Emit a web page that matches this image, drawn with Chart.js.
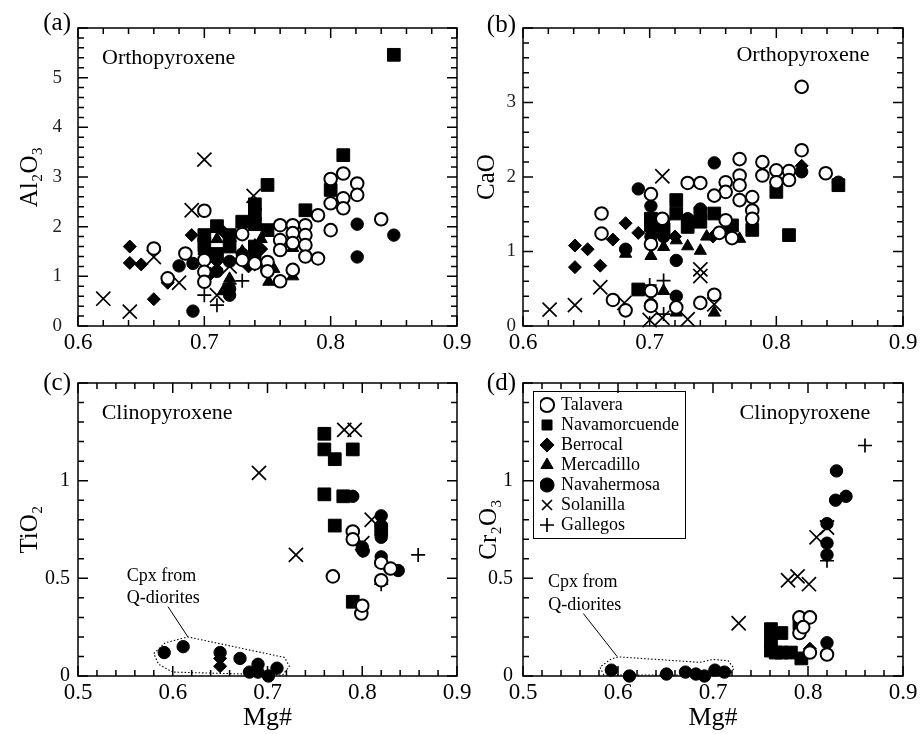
<!DOCTYPE html>
<html>
<head>
<meta charset="utf-8">
<script src="https://cdn.jsdelivr.net/npm/chart.js@4.4.0/dist/chart.umd.min.js"></script>
<style>
  body { margin: 0; background: #fff; }
  #wrap { position: relative; width: 921px; height: 734px; overflow: hidden; background: #fff; }
  canvas { position: absolute; }
</style>
</head>
<body>
<div id="wrap">
  <canvas id="chartA" width="480" height="360" style="left:0;top:0;width:480px;height:360px"></canvas>
  <canvas id="chartB" width="461" height="360" style="left:460px;top:0;width:461px;height:360px"></canvas>
  <canvas id="chartC" width="480" height="379" style="left:0;top:355px;width:480px;height:379px"></canvas>
  <canvas id="chartD" width="461" height="379" style="left:460px;top:355px;width:461px;height:379px"></canvas>
</div>
<script>
// sample localities, in legend order
const seriesNames = ['Talavera', 'Navamorcuende', 'Berrocal', 'Mercadillo', 'Navahermosa', 'Solanilla', 'Gallegos'];

// (a) orthopyroxene, Al2O3 vs Mg#
const alTalavera = [[0.660,1.56],[0.685,1.46],[0.671,0.96],[0.700,2.32],[0.700,1.33],[0.700,1.09],[0.700,0.89],[0.730,1.85],[0.730,1.33],[0.740,1.26],[0.750,1.29],[0.750,1.10],[0.760,2.03],[0.760,1.73],[0.760,1.53],[0.760,0.90],[0.770,2.03],[0.770,1.87],[0.770,1.67],[0.770,1.13],[0.780,2.03],[0.780,1.83],[0.780,1.63],[0.780,1.40],[0.790,1.36],[0.790,2.23],[0.800,2.96],[0.800,2.47],[0.800,1.93],[0.810,3.07],[0.810,2.57],[0.810,2.37],[0.821,2.87],[0.821,2.64],[0.840,2.15]];
const alNavamorcuende = [[0.850,5.46],[0.810,3.44],[0.750,2.84],[0.740,2.45],[0.740,2.25],[0.740,2.05],[0.730,2.10],[0.710,2.01],[0.720,1.83],[0.700,1.83],[0.700,1.65],[0.780,2.33],[0.800,2.74],[0.750,1.93],[0.740,1.60],[0.720,1.60],[0.710,1.45]];
const alBerrocal = [[0.641,1.60],[0.641,1.27],[0.650,1.24],[0.660,0.54],[0.671,0.87],[0.690,1.83],[0.700,1.45],[0.710,1.30],[0.720,1.70],[0.735,1.20],[0.745,1.55],[0.700,1.70],[0.715,1.90],[0.705,1.05]];
const alMercadillo = [[0.751,0.89],[0.770,1.00],[0.770,1.57],[0.710,1.75],[0.710,1.40],[0.720,0.95],[0.720,0.78],[0.740,1.62],[0.730,1.50],[0.755,1.15],[0.700,1.20],[0.715,0.70],[0.745,1.75]];
const alNavahermosa = [[0.691,0.30],[0.680,1.21],[0.691,1.26],[0.720,0.62],[0.720,0.75],[0.821,2.05],[0.821,1.39],[0.850,1.83],[0.700,1.50],[0.710,1.10],[0.730,1.45],[0.740,1.40],[0.720,1.30],[0.700,1.75]];
const alSolanilla = [[0.620,0.55],[0.641,0.29],[0.700,3.35],[0.690,2.33],[0.739,2.62],[0.660,1.39],[0.680,0.87],[0.720,1.20],[0.745,1.25],[0.710,0.62]];
const alGallegos = [[0.700,0.62],[0.710,0.42],[0.730,0.91],[0.745,1.22],[0.720,0.85]];

// (b) orthopyroxene, CaO vs Mg#
const caTalavera = [[0.820,3.21],[0.820,2.36],[0.789,2.20],[0.789,2.02],[0.800,2.09],[0.800,1.93],[0.810,2.08],[0.810,1.96],[0.839,2.05],[0.771,2.24],[0.771,2.02],[0.771,1.89],[0.771,1.69],[0.760,1.93],[0.760,1.80],[0.760,1.42],[0.781,1.73],[0.781,1.55],[0.781,1.44],[0.751,1.75],[0.730,1.92],[0.740,1.92],[0.701,1.77],[0.662,1.51],[0.662,1.24],[0.701,1.10],[0.671,0.35],[0.681,0.21],[0.701,0.47],[0.701,0.27],[0.740,0.31],[0.751,0.42],[0.721,0.25],[0.710,1.44],[0.765,1.18],[0.755,1.25]];
const caNavamorcuende = [[0.849,1.89],[0.810,1.22],[0.800,1.80],[0.781,1.29],[0.721,1.69],[0.721,1.51],[0.701,1.44],[0.701,1.35],[0.751,1.51],[0.740,1.51],[0.730,1.33],[0.691,0.49],[0.740,1.40],[0.765,1.35],[0.711,1.30]];
const caBerrocal = [[0.641,1.08],[0.641,0.79],[0.651,1.03],[0.671,1.16],[0.661,0.81],[0.681,1.38],[0.691,1.25],[0.820,2.15],[0.720,1.20],[0.750,1.20]];
const caMercadillo = [[0.681,0.97],[0.701,0.94],[0.711,1.06],[0.721,1.15],[0.730,1.07],[0.740,1.01],[0.771,1.17],[0.751,0.18],[0.721,0.18],[0.711,0.47],[0.760,1.25],[0.745,1.20]];
const caNavahermosa = [[0.751,2.19],[0.691,1.84],[0.701,1.61],[0.681,1.03],[0.711,1.42],[0.730,1.44],[0.740,1.57],[0.721,0.88],[0.721,0.40],[0.701,0.29],[0.849,1.93],[0.820,2.07],[0.701,1.20],[0.711,1.20]];
const caSolanilla = [[0.621,0.22],[0.641,0.28],[0.661,0.52],[0.710,2.01],[0.740,0.76],[0.740,0.67],[0.680,0.31],[0.710,0.11],[0.730,0.09],[0.751,0.29],[0.700,0.08]];
const caGallegos = [[0.711,0.61],[0.711,0.16],[0.700,0.55],[0.705,1.30]];

// (c) clinopyroxene, TiO2 vs Mg#
const tiTalavera = [[0.769,0.51],[0.790,0.74],[0.790,0.70],[0.799,0.32],[0.800,0.36],[0.820,0.58],[0.820,0.49],[0.830,0.55]];
const tiNavamorcuende = [[0.760,1.24],[0.760,1.16],[0.771,1.11],[0.760,0.93],[0.780,0.92],[0.771,0.77],[0.790,1.16],[0.790,0.38],[0.820,0.75]];
const tiBerrocal = [[0.650,0.09],[0.650,0.05],[0.800,0.64]];
const tiMercadillo = [];
const tiNavahermosa = [[0.591,0.12],[0.611,0.15],[0.650,0.12],[0.671,0.09],[0.681,0.02],[0.690,0.06],[0.701,0.00],[0.710,0.04],[0.690,0.02],[0.820,0.82],[0.820,0.71],[0.801,0.64],[0.820,0.61],[0.838,0.54],[0.829,0.55],[0.790,0.92],[0.820,0.77],[0.800,0.66]];
const tiSolanilla = [[0.691,1.04],[0.730,0.62],[0.781,1.26],[0.792,1.26],[0.810,0.80],[0.800,0.68]];
const tiGallegos = [[0.859,0.62],[0.820,0.47]];

// (d) clinopyroxene, Cr2O3 vs Mg#
const crTalavera = [[0.791,0.30],[0.802,0.30],[0.791,0.22],[0.820,0.11],[0.802,0.12],[0.795,0.25]];
const crNavamorcuende = [[0.761,0.24],[0.772,0.22],[0.761,0.13],[0.772,0.12],[0.782,0.12],[0.793,0.09],[0.791,0.27],[0.761,0.18],[0.766,0.12]];
const crBerrocal = [[0.802,0.14]];
const crMercadillo = [];
const crNavahermosa = [[0.830,1.05],[0.829,0.90],[0.840,0.92],[0.820,0.78],[0.820,0.68],[0.820,0.62],[0.820,0.17],[0.593,0.03],[0.612,0.00],[0.651,0.01],[0.671,0.02],[0.682,0.01],[0.691,0.00],[0.702,0.03],[0.712,0.02]];
const crSolanilla = [[0.809,0.71],[0.820,0.76],[0.779,0.49],[0.789,0.51],[0.801,0.47],[0.727,0.27]];
const crGallegos = [[0.860,1.18],[0.820,0.59]];

// outlines round the Q-diorite cpx and the leader lines to their labels
const tiOutline = [[0.600,0.020],[0.585,0.060],[0.580,0.115],[0.592,0.170],[0.616,0.200],[0.718,0.095],[0.723,0.050],[0.716,0.005],[0.600,0.020]];
const tiLeader = [[0.595,0.355],[0.616,0.200]];
const crOutline = [[0.585,0.005],[0.581,0.045],[0.592,0.085],[0.600,0.098],[0.686,0.070],[0.700,0.085],[0.716,0.078],[0.722,0.040],[0.718,0.005],[0.585,0.005]];
const crLeader = [[0.5635,0.32],[0.599,0.10]];

const FONT = "'Liberation Serif', 'DejaVu Serif', 'Times New Roman', serif";
Chart.defaults.font.family = FONT;
Chart.defaults.color = '#000';

const markers = [
  { style: 'circle',   radius: 6.3, fill: '#fff', width: 2 },
  { style: 'rect',     radius: 9,   fill: '#000', width: 1 },
  { style: 'rectRot',  radius: 6.5, fill: '#000', width: 1 },
  { style: 'triangle', radius: 7,   fill: '#000', width: 1 },
  { style: 'circle',   radius: 6.2, fill: '#000', width: 1 },
  { style: 'crossRot', radius: 10,  fill: '#000', width: 1.7 },
  { style: 'cross',    radius: 7,   fill: '#000', width: 1.7 }
];

function pts(arr) {
  return arr.map(p => ({ x: p[0], y: p[1] }));
}

function buildDatasets(series, outline, leader) {
  const ds = seriesNames.map((name, i) => ({
    label: name,
    data: pts(series[i]),
    pointStyle: markers[i].style,
    pointRadius: markers[i].radius,
    pointBackgroundColor: markers[i].fill,
    pointBorderColor: '#000',
    pointBorderWidth: markers[i].width,
    backgroundColor: markers[i].fill,
    borderColor: '#000',
    borderWidth: markers[i].width,
    showLine: false,
    clip: false
  }));
  if (outline) {
    ds.push({ label: '', data: pts(outline), showLine: true, borderColor: '#000', borderWidth: 1.1,
      borderDash: [1.5, 2], pointRadius: 0, fill: false, clip: false });
  }
  if (leader) {
    ds.push({ label: '', data: pts(leader), showLine: true, borderColor: '#000', borderWidth: 1,
      pointRadius: 0, fill: false, clip: false });
  }
  return ds;
}

// frame + inward ticks on all four sides
function frameTicks(xMinor, yMinor, xMajor, yMajor) {
  return {
    id: 'frameTicks',
    afterDraw(chart) {
      const ctx = chart.ctx;
      const a = chart.chartArea;
      const x = chart.scales.x;
      const y = chart.scales.y;
      ctx.save();
      ctx.strokeStyle = '#000';
      ctx.lineWidth = 1.5;
      ctx.setLineDash([]);
      const isMajor = (v, m) => Math.abs(v / m - Math.round(v / m)) < 1e-6;
      const nx = Math.round((x.max - x.min) / xMinor);
      ctx.beginPath();
      for (let i = 0; i <= nx; i++) {
        const v = x.min + i * xMinor;
        const px = x.getPixelForValue(v);
        const len = isMajor(v, xMajor) ? 10 : 6;
        ctx.moveTo(px, a.bottom); ctx.lineTo(px, a.bottom - len);
        ctx.moveTo(px, a.top); ctx.lineTo(px, a.top + len);
      }
      const ny = Math.round((y.max - y.min) / yMinor);
      for (let i = 0; i <= ny; i++) {
        const v = y.min + i * yMinor;
        const py = y.getPixelForValue(v);
        const len = isMajor(v, yMajor) ? 10 : 6;
        ctx.moveTo(a.left, py); ctx.lineTo(a.left + len, py);
        ctx.moveTo(a.right, py); ctx.lineTo(a.right - len, py);
      }
      ctx.stroke();
      ctx.lineWidth = 1.5;
      ctx.strokeRect(a.left, a.top, a.right - a.left, a.bottom - a.top);
      ctx.restore();
    }
  };
}

// panel letter and text notes placed in data coordinates
function notes(panel, panelDy, items) {
  return {
    id: 'notes',
    afterDraw(chart) {
      const { ctx, chartArea: a, scales: { x, y } } = chart;
      ctx.save();
      ctx.fillStyle = '#000';
      ctx.textBaseline = 'middle';
      ctx.font = '25px ' + FONT;
      ctx.textAlign = 'right';
      ctx.fillText(panel, a.left - 7, a.top + panelDy);
      items.forEach(it => {
        ctx.font = it.size + 'px ' + FONT;
        ctx.textAlign = it.align || 'left';
        ctx.fillText(it.text, x.getPixelForValue(it.x), y.getPixelForValue(it.y));
      });
      ctx.restore();
    }
  };
}

// legend sits inside the plot of (d), with a box round it
const legendPlace = {
  id: 'legendPlace',
  afterLayout(chart) {
    const lg = chart.legend;
    if (!lg || !lg.options.display) return;
    const a = chart.chartArea;
    lg.left = a.left + 17;
    lg.top = a.top + 11;
    lg.right = lg.left + lg.width + 20;
    lg.bottom = lg.top + 160;
  },
  afterDraw(chart) {
    const lg = chart.legend;
    if (!lg || !lg.options.display || !lg.columnSizes || !lg.columnSizes.length) return;
    const col = lg.columnSizes[0];
    const ctx = chart.ctx;
    ctx.save();
    ctx.strokeStyle = '#000';
    ctx.lineWidth = 1;
    ctx.strokeRect(Math.round(lg.left - 7) + 0.5, Math.round(lg.top - 3) + 0.5, Math.round(col.width + 15), Math.round(col.height + 7));
    ctx.restore();
  }
};

function makeChart(id, opt) {
  const xScale = {
    type: 'linear', position: 'bottom', min: opt.xMin, max: 0.9,
    grid: { display: false, drawTicks: false }, border: { display: false },
    ticks: { stepSize: 0.1, padding: 3, font: { size: 23 }, color: '#000', maxRotation: 0, autoSkip: false,
      callback: v => v.toFixed(1) },
    title: { display: opt.xTitle, text: 'Mg#', font: { size: 26 }, color: '#000', padding: { top: 0, bottom: 0 } },
    afterFit(s) { s.height = opt.xHeight; s.paddingLeft = 0; s.paddingRight = 0; }
  };
  const yScale = {
    type: 'linear', position: 'left', min: 0, max: opt.yMax,
    grid: { display: false, drawTicks: false }, border: { display: false },
    ticks: { stepSize: opt.yStep, padding: opt.yPad, font: { size: opt.yFont }, color: opt.yColor,
      callback: v => (Math.abs(v - opt.yMax) < 1e-9 ? '' : String(v)) },
    title: { display: true, text: opt.yTitle, font: { size: 25 }, color: '#000', padding: { top: opt.titlePad, bottom: 0 } },
    afterFit(s) { s.width = opt.yWidth; s.paddingTop = 0; s.paddingBottom = 0; }
  };
  return new Chart(document.getElementById(id), {
    type: 'scatter',
    data: { datasets: buildDatasets(opt.series, opt.outline, opt.leader) },
    options: {
      responsive: false,
      animation: false,
      events: [],
      layout: { padding: { left: 0, top: 28, right: opt.padRight, bottom: 0 } },
      scales: { x: xScale, y: yScale },
      plugins: {
        legend: {
          display: !!opt.legend,
          position: 'chartArea',
          align: 'start',
          labels: {
            usePointStyle: true, boxWidth: 10, boxHeight: 10, padding: 2, color: '#000',
            font: { size: 18 },
            filter: item => item.text !== ''
          }
        },
        tooltip: { enabled: false }
      }
    },
    plugins: [frameTicks(0.02, opt.yMinor, 0.1, opt.yStep), notes(opt.panel, opt.panelDy, opt.notes), legendPlace]
  });
}

makeChart('chartA', {
  series: [alTalavera, alNavamorcuende, alBerrocal, alMercadillo, alNavahermosa, alSolanilla, alGallegos],
  xMin: 0.6, yMax: 6, yStep: 1, yMinor: 0.2, yTitle: 'Al\u2082O\u2083',
  yWidth: 78, xHeight: 34, padRight: 23, yPad: 16, yFont: 19, yColor: '#222', titlePad: 15, xTitle: false,
  panel: '(a)', panelDy: -5,
  notes: [{ text: 'Orthopyroxene', x: 0.619, y: 5.39, size: 22 }]
});

makeChart('chartB', {
  series: [caTalavera, caNavamorcuende, caBerrocal, caMercadillo, caNavahermosa, caSolanilla, caGallegos],
  xMin: 0.6, yMax: 4, yStep: 1, yMinor: 0.2, yTitle: 'CaO',
  yWidth: 63, xHeight: 34, padRight: 18, yPad: 7, yFont: 19, yColor: '#222', titlePad: 12, xTitle: false,
  panel: '(b)', panelDy: -3,
  notes: [{ text: 'Orthopyroxene', x: 0.7685, y: 3.64, size: 22 }]
});

makeChart('chartC', {
  series: [tiTalavera, tiNavamorcuende, tiBerrocal, tiMercadillo, tiNavahermosa, tiSolanilla, tiGallegos],
  outline: tiOutline, leader: tiLeader,
  xMin: 0.5, yMax: 1.5, yStep: 0.5, yMinor: 0.1, yTitle: 'TiO\u2082',
  yWidth: 78, xHeight: 58, padRight: 23, yPad: 8, yFont: 20, yColor: '#000', titlePad: 15, xTitle: true,
  panel: '(c)', panelDy: 0,
  notes: [
    { text: 'Clinopyroxene', x: 0.525, y: 1.347, size: 22 },
    { text: 'Cpx from', x: 0.588, y: 0.51, size: 18, align: 'center' },
    { text: 'Q-diorites', x: 0.590, y: 0.40, size: 18, align: 'center' }
  ]
});

makeChart('chartD', {
  series: [crTalavera, crNavamorcuende, crBerrocal, crMercadillo, crNavahermosa, crSolanilla, crGallegos],
  outline: crOutline, leader: crLeader,
  xMin: 0.5, yMax: 1.5, yStep: 0.5, yMinor: 0.1, yTitle: 'Cr\u2082O\u2083',
  yWidth: 63, xHeight: 58, padRight: 18, yPad: 10, yFont: 20, yColor: '#000', titlePad: 14, xTitle: true,
  panel: '(d)', panelDy: 0, legend: true,
  notes: [
    { text: 'Clinopyroxene', x: 0.728, y: 1.347, size: 22 },
    { text: 'Cpx from', x: 0.563, y: 0.48, size: 18, align: 'center' },
    { text: 'Q-diorites', x: 0.565, y: 0.36, size: 18, align: 'center' }
  ]
});
</script>
</body>
</html>
